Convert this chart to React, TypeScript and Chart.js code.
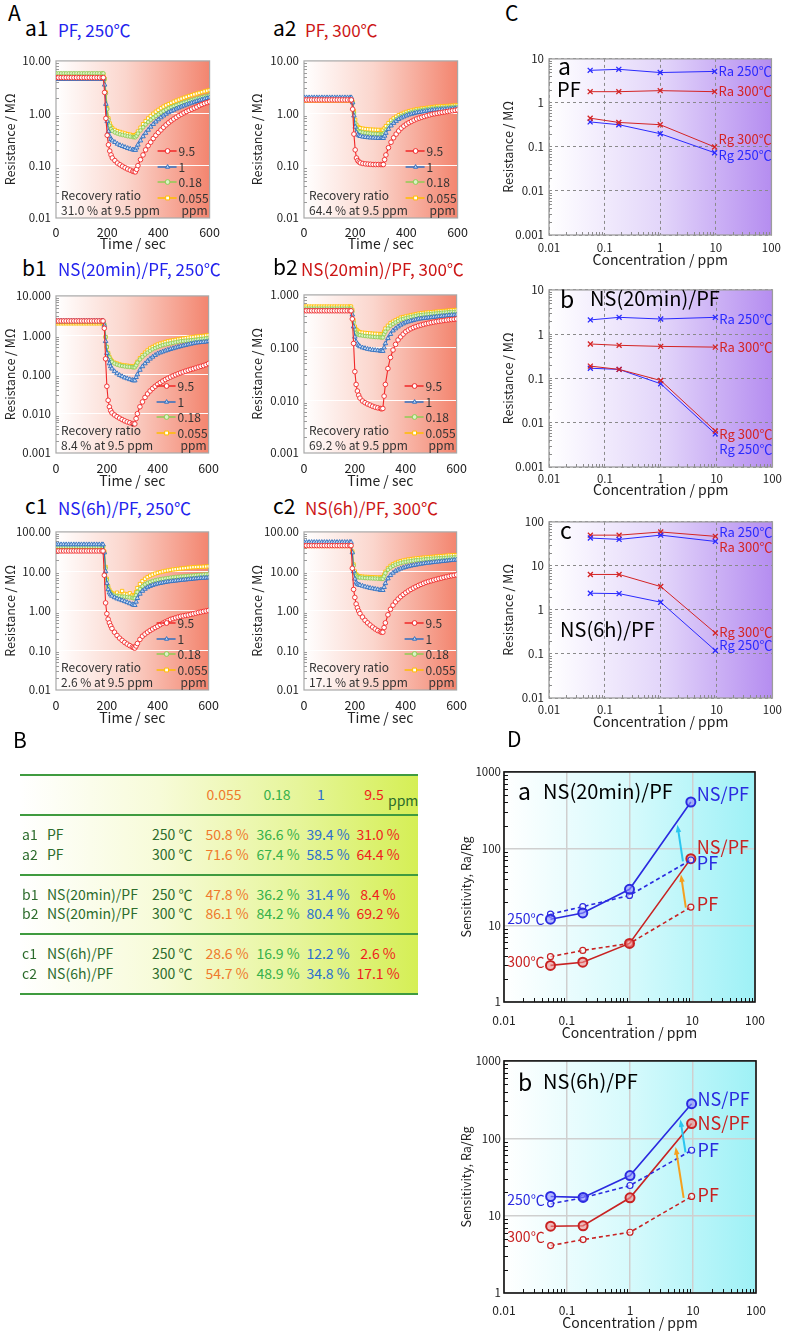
import React, { useEffect, useRef } from 'react';
import { Chart, registerables } from 'chart.js';

Chart.register(...registerables);

const FONT = '"Noto Sans CJK JP", "Noto Sans", "DejaVu Sans", sans-serif';

// ---------------- Panel A: time responses ----------------
const TIME = [0, 10, 20, 30, 40, 50, 60, 70, 80, 90, 100, 110, 120, 130, 140, 150, 160, 170, 180, 185,
  190, 195, 200, 205, 210, 215, 220, 230, 240, 250, 260, 270, 280, 290, 300, 305, 310, 315, 320,
  330, 340, 350, 360, 370, 380, 390, 400, 410, 420, 430, 440, 450, 460, 470, 480, 490, 500, 510, 520, 530, 540, 550, 560, 570, 580, 590, 600];
const TIME_TICKS = [0, 200, 400, 600];
const LEGEND_LABELS = ['9.5', '1', '0.18', '0.055'];
const LEGEND_UNIT = 'ppm';

// a1 PF 250
const A1_R = [4.8, 4.8, 4.8, 4.8, 4.8, 4.8, 4.8, 4.8, 4.8, 4.8, 4.8, 4.8, 4.8, 4.8, 4.8, 4.8, 4.8, 4.8, 4.8, 4.8,
  2.5, 0.8, 0.38, 0.25, 0.19, 0.16, 0.14, 0.125, 0.112, 0.104, 0.097, 0.091, 0.086, 0.082, 0.078, 0.077, 0.076, 0.085, 0.1,
  0.13, 0.16, 0.2, 0.24, 0.28, 0.33, 0.38, 0.43, 0.48, 0.54, 0.6, 0.66, 0.72, 0.78, 0.84, 0.9, 0.96, 1.02, 1.08, 1.14, 1.2, 1.26, 1.32, 1.4, 1.47, 1.54, 1.6, 1.66];
const A1_B = [4.5, 4.5, 4.5, 4.5, 4.5, 4.5, 4.5, 4.5, 4.5, 4.5, 4.5, 4.5, 4.5, 4.5, 4.5, 4.5, 4.5, 4.5, 4.5, 4.5,
  3.5, 1.5, 0.7, 0.45, 0.36, 0.32, 0.3, 0.28, 0.26, 0.245, 0.235, 0.225, 0.215, 0.208, 0.202, 0.2, 0.198, 0.22, 0.25,
  0.3, 0.36, 0.42, 0.48, 0.55, 0.62, 0.69, 0.76, 0.83, 0.9, 0.97, 1.04, 1.1, 1.16, 1.22, 1.28, 1.34, 1.4, 1.46, 1.52, 1.58, 1.64, 1.7, 1.76, 1.82, 1.88, 1.94, 2.0];
const A1_G = [5.8, 5.8, 5.8, 5.8, 5.8, 5.8, 5.8, 5.8, 5.8, 5.8, 5.8, 5.8, 5.8, 5.8, 5.8, 5.8, 5.8, 5.8, 5.8, 5.8,
  4.6, 2.4, 1.2, 0.75, 0.58, 0.5, 0.46, 0.43, 0.41, 0.395, 0.385, 0.375, 0.365, 0.358, 0.352, 0.35, 0.348, 0.37, 0.41,
  0.47, 0.54, 0.61, 0.68, 0.75, 0.82, 0.89, 0.96, 1.03, 1.1, 1.17, 1.24, 1.3, 1.36, 1.42, 1.48, 1.54, 1.6, 1.66, 1.72, 1.78, 1.84, 1.9, 1.96, 2.02, 2.08, 2.14, 2.2];
const A1_Y = [5.5, 5.5, 5.5, 5.5, 5.5, 5.5, 5.5, 5.5, 5.5, 5.5, 5.5, 5.5, 5.5, 5.5, 5.5, 5.5, 5.5, 5.5, 5.5, 5.5,
  4.5, 2.5, 1.25, 0.8, 0.64, 0.56, 0.52, 0.48, 0.455, 0.44, 0.425, 0.412, 0.4, 0.39, 0.382, 0.378, 0.375, 0.4, 0.45,
  0.53, 0.62, 0.71, 0.8, 0.89, 0.98, 1.07, 1.16, 1.25, 1.34, 1.42, 1.5, 1.58, 1.66, 1.74, 1.82, 1.9, 1.98, 2.06, 2.14, 2.22, 2.3, 2.38, 2.46, 2.54, 2.62, 2.7, 2.78];

// a2 PF 300
const A2_R = [1.8, 1.8, 1.8, 1.8, 1.8, 1.8, 1.8, 1.8, 1.8, 1.8, 1.8, 1.8, 1.8, 1.8, 1.8, 1.8, 1.8, 1.8, 1.8, 1.8,
  1.2, 0.4, 0.2, 0.14, 0.125, 0.118, 0.113, 0.11, 0.108, 0.107, 0.106, 0.105, 0.105, 0.105, 0.105, 0.105, 0.105, 0.13, 0.16,
  0.22, 0.28, 0.34, 0.4, 0.46, 0.52, 0.57, 0.62, 0.66, 0.7, 0.74, 0.78, 0.81, 0.84, 0.87, 0.9, 0.93, 0.96, 0.98, 1.0, 1.02, 1.04, 1.06, 1.08, 1.1, 1.12, 1.14, 1.16];
const A2_B = [2.0, 2.0, 2.0, 2.0, 2.0, 2.0, 2.0, 2.0, 2.0, 2.0, 2.0, 2.0, 2.0, 2.0, 2.0, 2.0, 2.0, 2.0, 2.0, 2.0,
  1.6, 0.9, 0.55, 0.43, 0.39, 0.375, 0.365, 0.355, 0.35, 0.345, 0.342, 0.34, 0.338, 0.336, 0.335, 0.335, 0.335, 0.37, 0.42,
  0.5, 0.58, 0.65, 0.71, 0.77, 0.82, 0.86, 0.9, 0.94, 0.97, 1.0, 1.03, 1.05, 1.07, 1.09, 1.11, 1.13, 1.15, 1.16, 1.17, 1.18, 1.19, 1.2, 1.21, 1.22, 1.23, 1.24, 1.25];
const A2_G = [1.85, 1.85, 1.85, 1.85, 1.85, 1.85, 1.85, 1.85, 1.85, 1.85, 1.85, 1.85, 1.85, 1.85, 1.85, 1.85, 1.85, 1.85, 1.85, 1.85,
  1.6, 1.0, 0.65, 0.52, 0.47, 0.45, 0.44, 0.43, 0.42, 0.415, 0.41, 0.405, 0.402, 0.4, 0.398, 0.397, 0.396, 0.43, 0.48,
  0.56, 0.64, 0.71, 0.77, 0.83, 0.88, 0.93, 0.97, 1.01, 1.05, 1.08, 1.11, 1.13, 1.15, 1.17, 1.19, 1.21, 1.23, 1.24, 1.25, 1.26, 1.27, 1.28, 1.29, 1.3, 1.31, 1.32, 1.33];
const A2_Y = [1.75, 1.75, 1.75, 1.75, 1.75, 1.75, 1.75, 1.75, 1.75, 1.75, 1.75, 1.75, 1.75, 1.75, 1.75, 1.75, 1.75, 1.75, 1.75, 1.75,
  1.65, 1.1, 0.75, 0.6, 0.55, 0.53, 0.52, 0.51, 0.5, 0.495, 0.49, 0.487, 0.484, 0.482, 0.48, 0.48, 0.48, 0.52, 0.57,
  0.65, 0.73, 0.8, 0.86, 0.92, 0.97, 1.02, 1.06, 1.1, 1.13, 1.16, 1.19, 1.21, 1.23, 1.25, 1.27, 1.29, 1.31, 1.33, 1.34, 1.35, 1.36, 1.37, 1.38, 1.39, 1.4, 1.41, 1.42];

// b1 NS(20min)/PF 250
const B1_R = [2.3, 2.3, 2.3, 2.3, 2.3, 2.3, 2.3, 2.3, 2.3, 2.3, 2.3, 2.3, 2.3, 2.3, 2.3, 2.3, 2.3, 2.3, 2.3, 2.3,
  1.5, 0.25, 0.05, 0.022, 0.015, 0.012, 0.0105, 0.0093, 0.0084, 0.0077, 0.0071, 0.0066, 0.0062, 0.0059, 0.0056, 0.0055, 0.0055, 0.0075, 0.01,
  0.015, 0.02, 0.026, 0.032, 0.038, 0.044, 0.05, 0.056, 0.062, 0.068, 0.074, 0.08, 0.086, 0.092, 0.098, 0.104, 0.11, 0.116, 0.122, 0.128, 0.134, 0.14, 0.147, 0.154, 0.161, 0.168, 0.178, 0.19];
const B1_B = [2.3, 2.3, 2.3, 2.3, 2.3, 2.3, 2.3, 2.3, 2.3, 2.3, 2.3, 2.3, 2.3, 2.3, 2.3, 2.3, 2.3, 2.3, 2.3, 2.3,
  1.8, 0.7, 0.35, 0.24, 0.19, 0.16, 0.14, 0.12, 0.106, 0.096, 0.089, 0.083, 0.079, 0.075, 0.072, 0.07, 0.07, 0.085, 0.1,
  0.13, 0.16, 0.19, 0.22, 0.25, 0.28, 0.31, 0.34, 0.36, 0.38, 0.4, 0.42, 0.44, 0.46, 0.48, 0.5, 0.52, 0.54, 0.56, 0.58, 0.6, 0.62, 0.64, 0.65, 0.66, 0.67, 0.68, 0.7];
const B1_G = [2.2, 2.2, 2.2, 2.2, 2.2, 2.2, 2.2, 2.2, 2.2, 2.2, 2.2, 2.2, 2.2, 2.2, 2.2, 2.2, 2.2, 2.2, 2.2, 2.2,
  1.9, 0.9, 0.5, 0.34, 0.27, 0.23, 0.21, 0.19, 0.178, 0.17, 0.164, 0.16, 0.157, 0.155, 0.153, 0.152, 0.152, 0.17, 0.2,
  0.24, 0.28, 0.32, 0.36, 0.4, 0.44, 0.47, 0.5, 0.53, 0.56, 0.58, 0.6, 0.62, 0.64, 0.66, 0.68, 0.7, 0.71, 0.72, 0.73, 0.74, 0.75, 0.76, 0.78, 0.8, 0.81, 0.83, 0.85];
const B1_Y = [2.0, 2.0, 2.0, 2.0, 2.0, 2.0, 2.0, 2.0, 2.0, 2.0, 2.0, 2.0, 2.0, 2.0, 2.0, 2.0, 2.0, 2.0, 2.0, 2.0,
  1.8, 0.9, 0.5, 0.35, 0.28, 0.24, 0.22, 0.2, 0.19, 0.18, 0.174, 0.17, 0.167, 0.164, 0.162, 0.16, 0.16, 0.18, 0.21,
  0.26, 0.31, 0.36, 0.41, 0.46, 0.5, 0.54, 0.58, 0.61, 0.64, 0.67, 0.7, 0.72, 0.74, 0.76, 0.78, 0.8, 0.82, 0.84, 0.86, 0.88, 0.9, 0.92, 0.93, 0.95, 0.96, 0.98, 1.0];

// b2 NS(20min)/PF 300
const B2_R = [0.5, 0.5, 0.5, 0.5, 0.5, 0.5, 0.5, 0.5, 0.5, 0.5, 0.5, 0.5, 0.5, 0.5, 0.5, 0.5, 0.5, 0.5, 0.5, 0.5,
  0.35, 0.12, 0.035, 0.02, 0.015, 0.0125, 0.011, 0.0097, 0.009, 0.0085, 0.0081, 0.0077, 0.0074, 0.0072, 0.007, 0.0069, 0.007, 0.012, 0.02,
  0.04, 0.065, 0.09, 0.115, 0.14, 0.16, 0.18, 0.2, 0.215, 0.228, 0.24, 0.25, 0.26, 0.268, 0.276, 0.284, 0.291, 0.298, 0.305, 0.311, 0.317, 0.322, 0.327, 0.332, 0.337, 0.341, 0.345, 0.35];
const B2_B = [0.5, 0.5, 0.5, 0.5, 0.5, 0.5, 0.5, 0.5, 0.5, 0.5, 0.5, 0.5, 0.5, 0.5, 0.5, 0.5, 0.5, 0.5, 0.5, 0.5,
  0.42, 0.25, 0.16, 0.13, 0.118, 0.11, 0.105, 0.1, 0.097, 0.094, 0.092, 0.09, 0.089, 0.088, 0.087, 0.086, 0.086, 0.1, 0.12,
  0.15, 0.18, 0.21, 0.23, 0.25, 0.27, 0.285, 0.3, 0.31, 0.32, 0.33, 0.34, 0.35, 0.355, 0.36, 0.365, 0.37, 0.375, 0.38, 0.385, 0.39, 0.395, 0.4, 0.405, 0.41, 0.413, 0.416, 0.42];
const B2_G = [0.55, 0.55, 0.55, 0.55, 0.55, 0.55, 0.55, 0.55, 0.55, 0.55, 0.55, 0.55, 0.55, 0.55, 0.55, 0.55, 0.55, 0.55, 0.55, 0.55,
  0.48, 0.3, 0.22, 0.19, 0.18, 0.175, 0.172, 0.169, 0.166, 0.164, 0.162, 0.16, 0.159, 0.158, 0.157, 0.156, 0.156, 0.18, 0.2,
  0.23, 0.26, 0.28, 0.3, 0.32, 0.34, 0.35, 0.36, 0.37, 0.38, 0.39, 0.4, 0.41, 0.415, 0.42, 0.425, 0.43, 0.435, 0.44, 0.445, 0.45, 0.455, 0.46, 0.465, 0.47, 0.473, 0.476, 0.48];
const B2_Y = [0.6, 0.6, 0.6, 0.6, 0.6, 0.6, 0.6, 0.6, 0.6, 0.6, 0.6, 0.6, 0.6, 0.6, 0.6, 0.6, 0.6, 0.6, 0.6, 0.6,
  0.52, 0.33, 0.25, 0.22, 0.21, 0.2, 0.195, 0.192, 0.19, 0.188, 0.186, 0.184, 0.183, 0.182, 0.181, 0.18, 0.18, 0.2, 0.23,
  0.26, 0.29, 0.31, 0.33, 0.35, 0.37, 0.38, 0.39, 0.4, 0.41, 0.42, 0.43, 0.44, 0.45, 0.455, 0.46, 0.465, 0.47, 0.475, 0.48, 0.485, 0.49, 0.495, 0.5, 0.505, 0.51, 0.515, 0.52];

// c1 NS(6h)/PF 250
const C1_R = [33, 33, 33, 33, 33, 33, 33, 33, 33, 33, 33, 33, 33, 33, 33, 33, 33, 33, 33, 33,
  8, 1.6, 0.85, 0.62, 0.5, 0.42, 0.36, 0.29, 0.24, 0.205, 0.18, 0.16, 0.145, 0.133, 0.123, 0.118, 0.115, 0.13, 0.15,
  0.19, 0.23, 0.26, 0.29, 0.32, 0.35, 0.38, 0.41, 0.45, 0.49, 0.53, 0.57, 0.61, 0.64, 0.67, 0.7, 0.73, 0.75, 0.77, 0.79, 0.82, 0.85, 0.88, 0.91, 0.94, 0.97, 1.0, 1.03];
const C1_B = [48, 48, 48, 48, 48, 48, 48, 48, 48, 48, 48, 48, 48, 48, 48, 48, 48, 48, 48, 48,
  30, 10, 5, 3.5, 2.9, 2.6, 2.4, 2.2, 2.05, 1.95, 1.85, 1.75, 1.65, 1.55, 1.47, 1.42, 1.4, 1.7, 2.1,
  2.7, 3.2, 3.6, 3.95, 4.25, 4.5, 4.7, 4.9, 5.05, 5.2, 5.35, 5.5, 5.6, 5.7, 5.8, 5.9, 6.0, 6.1, 6.2, 6.3, 6.4, 6.5, 6.6, 6.7, 6.8, 6.85, 6.9, 7.0];
const C1_G = [42, 42, 42, 42, 42, 42, 42, 42, 42, 42, 42, 42, 42, 42, 42, 42, 42, 42, 42, 42,
  30, 12, 6, 4, 3.2, 2.8, 2.6, 2.45, 2.4, 2.35, 2.3, 2.3, 2.25, 2.2, 2.15, 2.1, 2.1, 2.5, 3.0,
  3.6, 4.2, 4.7, 5.1, 5.4, 5.7, 5.95, 6.15, 6.35, 6.5, 6.65, 6.8, 6.95, 7.1, 7.2, 7.3, 7.4, 7.5, 7.6, 7.7, 7.8, 7.9, 8.0, 8.1, 8.2, 8.3, 8.4, 8.5];
const C1_Y = [42, 42, 42, 42, 42, 42, 42, 42, 42, 42, 42, 42, 42, 42, 42, 42, 42, 42, 42, 42,
  32, 13, 6.5, 4.2, 3.4, 3.0, 2.8, 2.7, 2.9, 2.6, 3.2, 2.7, 2.6, 2.8, 2.5, 2.4, 2.4, 3.0, 3.8,
  4.8, 5.7, 6.5, 7.2, 7.8, 8.3, 8.8, 9.2, 9.6, 10.0, 10.3, 10.6, 10.9, 11.2, 11.4, 11.6, 11.8, 12.0, 12.2, 12.4, 12.6, 12.8, 12.9, 13.0, 13.1, 13.2, 13.3, 13.5];

// c2 NS(6h)/PF 300
const C2_R = [45, 45, 45, 45, 45, 45, 45, 45, 45, 45, 45, 45, 45, 45, 45, 45, 45, 45, 45, 45,
  12, 3.5, 2.2, 1.5, 1.2, 1.0, 0.86, 0.7, 0.58, 0.5, 0.44, 0.39, 0.35, 0.32, 0.3, 0.29, 0.29, 0.38, 0.5,
  0.8, 1.1, 1.4, 1.7, 2.0, 2.3, 2.6, 2.9, 3.2, 3.5, 3.8, 4.1, 4.4, 4.7, 5.0, 5.3, 5.55, 5.8, 6.05, 6.3, 6.55, 6.8, 7.05, 7.3, 7.55, 7.8, 8.0, 8.2];
const C2_B = [55, 55, 55, 55, 55, 55, 55, 55, 55, 55, 55, 55, 55, 55, 55, 55, 55, 55, 55, 55,
  30, 10, 6.5, 5.2, 4.8, 4.6, 4.5, 4.3, 4.1, 3.95, 3.8, 3.7, 3.6, 3.5, 3.4, 3.35, 3.35, 4.0, 5.0,
  6.6, 8.0, 9.2, 10.2, 11.0, 11.7, 12.3, 12.9, 13.4, 13.9, 14.3, 14.7, 15.1, 15.5, 15.9, 16.2, 16.5, 16.8, 17.1, 17.4, 17.7, 18.0, 18.3, 18.6, 18.9, 19.2, 19.5, 19.8];
const C2_G = [46, 46, 46, 46, 46, 46, 46, 46, 46, 46, 46, 46, 46, 46, 46, 46, 46, 46, 46, 46,
  30, 14, 9, 7.8, 7.3, 7.1, 7.0, 6.9, 6.8, 6.75, 6.7, 6.65, 6.6, 6.55, 6.5, 6.5, 6.5, 7.5, 9.0,
  11.0, 12.5, 13.8, 14.8, 15.6, 16.3, 16.9, 17.4, 17.9, 18.3, 18.7, 19.1, 19.4, 19.7, 20.0, 20.3, 20.6, 20.9, 21.1, 21.3, 21.5, 21.7, 21.9, 22.1, 22.3, 22.5, 22.7, 23.0];
const C2_Y = [44, 44, 44, 44, 44, 44, 44, 44, 44, 44, 44, 44, 44, 44, 44, 44, 44, 44, 44, 44,
  32, 15, 10, 8.5, 7.9, 7.6, 7.5, 7.4, 7.3, 7.25, 7.2, 7.15, 7.1, 7.05, 7.0, 7.0, 7.0, 8.2, 9.8,
  12.0, 13.8, 15.2, 16.4, 17.4, 18.2, 18.9, 19.5, 20.0, 20.5, 20.9, 21.3, 21.7, 22.0, 22.3, 22.6, 22.9, 23.2, 23.5, 23.8, 24.1, 24.4, 24.7, 25.0, 25.3, 25.6, 25.8, 26.0];

const Y_TICKS_A = [0.01, 0.1, 1, 10];
const Y_LABELS_A = ['0.01', '0.10', '1.00', '10.00'];
const Y_TICKS_B1 = [0.001, 0.01, 0.1, 1, 10];
const Y_LABELS_B1 = ['0.001', '0.010', '0.100', '1.000', '10.000'];
const Y_TICKS_B2 = [0.001, 0.01, 0.1, 1];
const Y_LABELS_B2 = ['0.001', '0.010', '0.100', '1.000'];
const Y_TICKS_C = [0.01, 0.1, 1, 10, 100];
const Y_LABELS_C = ['0.01', '0.10', '1.00', '10.00', '100.00'];
const RECOVERY = ['31.0 % at 9.5 ppm', '64.4 % at 9.5 ppm', '8.4 % at 9.5 ppm', '69.2 % at 9.5 ppm', '2.6 % at 9.5 ppm', '17.1 % at 9.5 ppm'];

// ---------------- Panel C: Ra / Rg vs concentration ----------------
const CONC = [0.055, 0.18, 1, 9.5];
const C_NAMES = ['Ra 250℃', 'Ra 300℃', 'Rg 300℃', 'Rg 250℃'];
const CA_RA250 = [5.5, 5.8, 4.9, 5.2];
const CA_RA300 = [1.8, 1.8, 1.9, 1.8];
const CA_RG300 = [0.45, 0.36, 0.32, 0.1];
const CA_RG250 = [0.37, 0.32, 0.2, 0.074];
const CA_LABEL_Y = [5.4, 1.85, 0.15, 0.066];
const CB_RA250 = [2.1, 2.4, 2.2, 2.4];
const CB_RA300 = [0.6, 0.56, 0.53, 0.51];
const CB_RG300 = [0.19, 0.16, 0.09, 0.0065];
const CB_RG250 = [0.17, 0.16, 0.076, 0.0056];
const CB_LABEL_Y = [2.2, 0.5, 0.0056, 0.0025];
const CC_RA250 = [43, 40, 50, 36];
const CC_RA300 = [50, 50, 59, 47];
const CC_RG300 = [6.4, 6.4, 3.4, 0.3];
const CC_RG250 = [2.4, 2.35, 1.5, 0.12];
const CC_LABEL_Y = [60, 26.5, 0.32, 0.16];
const CONC_TICKS = [0.01, 0.1, 1, 10, 100];
const CONC_LABELS = ['0.01', '0.1', '1', '10', '100'];
const C_TICKS_1 = [0.001, 0.01, 0.1, 1, 10];
const C_LABELS_1 = ['0.001', '0.01', '0.1', '1', '10'];
const C_TICKS_2 = [0.01, 0.1, 1, 10, 100];
const C_LABELS_2 = ['0.01', '0.1', '1', '10', '100'];

// ---------------- Panel D: sensitivity ----------------
const DA_NS250 = [12, 14.5, 29.5, 405];
const DA_PF250 = [14, 17.5, 24.5, 71];
const DA_NS300 = [3.0, 3.3, 5.8, 74];
const DA_PF300 = [3.9, 4.7, 5.8, 17.3];
const DB_NS250 = [17.7, 17.2, 33, 280];
const DB_PF250 = [14.2, 17, 24.5, 70];
const DB_NS300 = [7.3, 7.4, 17, 155];
const DB_PF300 = [4.1, 4.9, 6.1, 17.7];
const D_TICKS = [1, 10, 100, 1000];
const D_LABELS = ['1', '10', '100', '1000'];
const D_TEXTS = ['NS/PF', 'NS/PF', 'PF', 'PF', '250℃', '300℃'];
const DA_LABEL_Y = [518, 106, 64, 18.8, 12.3, 3.4];
const DB_LABEL_Y = [316, 155, 70, 18.6, 16, 5.4];
const DA_ARROWS = [[7.1, 68, 5.8, 205], [7.9, 17, 6.6, 46]];
const DB_ARROWS = [[7.6, 66, 6.3, 175], [7.1, 17, 5.3, 77]];

// ---------------- Panel B: table ----------------
const B_CONC = ['0.055', '0.18', '1', '9.5'];
const B_IDS = ['a1', 'a2', 'b1', 'b2', 'c1', 'c2'];
const B_NAMES = ['PF', 'PF', 'NS(20min)/PF', 'NS(20min)/PF', 'NS(6h)/PF', 'NS(6h)/PF'];
const B_TEMPS = ['250 ℃', '300 ℃', '250 ℃', '300 ℃', '250 ℃', '300 ℃'];
const B_R0055 = ['50.8 %', '71.6 %', '47.8 %', '86.1 %', '28.6 %', '54.7 %'];
const B_R018 = ['36.6 %', '67.4 %', '36.2 %', '84.2 %', '16.9 %', '48.9 %'];
const B_R1 = ['39.4 %', '58.5 %', '31.4 %', '80.4 %', '12.2 %', '34.8 %'];
const B_R95 = ['31.0 %', '64.4 %', '8.4 %', '69.2 %', '2.6 %', '17.1 %'];

// ---------------- styles ----------------
const A_STYLES = [
  { color: '#f02828', point: 'circle', r: 2.3, fill: '#ffffff' },
  { color: '#2f6fc0', point: 'triangle', r: 2.6, fill: '#c5d8f2' },
  { color: '#8fcc55', point: 'circle', r: 1.8, fill: '#dcf2c6' },
  { color: '#ffbe00', point: 'rect', r: 2.3, fill: '#ffffff' },
];
const C_BLUE = '#2a2aff';
const C_RED = '#d42424';
const D_BLUE = '#2a2ae0';
const D_RED = '#c82222';

function drawMarker(ctx: any, style: string, x: number, y: number, r: number, fill: string, stroke: string) {
  ctx.save();
  ctx.fillStyle = fill;
  ctx.strokeStyle = stroke;
  ctx.lineWidth = 1;
  ctx.beginPath();
  if (style === 'triangle') {
    ctx.moveTo(x, y - r);
    ctx.lineTo(x + r * 0.87, y + r * 0.5);
    ctx.lineTo(x - r * 0.87, y + r * 0.5);
    ctx.closePath();
  } else if (style === 'rect') {
    ctx.rect(x - r * 0.8, y - r * 0.8, r * 1.6, r * 1.6);
  } else {
    ctx.arc(x, y, r, 0, Math.PI * 2);
  }
  ctx.fill();
  ctx.stroke();
  ctx.restore();
}

function gradientBg(stops: [number, string][]) {
  return {
    id: 'gradientBg',
    beforeDraw(chart: any) {
      const { ctx, chartArea: a } = chart;
      if (!a) return;
      const g = ctx.createLinearGradient(a.left, 0, a.right, 0);
      stops.forEach(([o, c]) => g.addColorStop(o, c));
      ctx.save();
      ctx.fillStyle = g;
      ctx.fillRect(a.left, a.top, a.right - a.left, a.bottom - a.top);
      ctx.restore();
    },
  };
}

function frame(color: string, width: number) {
  return {
    id: 'frame',
    beforeDatasetsDraw(chart: any) {
      const { ctx, chartArea: a } = chart;
      ctx.save();
      ctx.strokeStyle = color;
      ctx.lineWidth = width;
      ctx.strokeRect(a.left, a.top, a.right - a.left, a.bottom - a.top);
      ctx.restore();
    },
  };
}

function minorTicks(axes: string[], color: string, len: number) {
  return {
    id: 'minorTicks',
    beforeDatasetsDraw(chart: any) {
      const { ctx, chartArea: a } = chart;
      ctx.save();
      ctx.strokeStyle = color;
      ctx.lineWidth = 1;
      axes.forEach((id) => {
        const s = chart.scales[id];
        const lo = Math.floor(Math.log10(s.min) + 1e-9);
        const hi = Math.ceil(Math.log10(s.max) - 1e-9);
        for (let d = lo; d < hi; d++) {
          for (let m = 2; m <= 9; m++) {
            const v = m * Math.pow(10, d);
            if (v <= s.min || v >= s.max) continue;
            const p = Math.round(s.getPixelForValue(v)) + 0.5;
            ctx.beginPath();
            if (s.isHorizontal()) {
              ctx.moveTo(p, a.bottom);
              ctx.lineTo(p, a.bottom - len);
            } else {
              ctx.moveTo(a.left, p);
              ctx.lineTo(a.left + len, p);
            }
            ctx.stroke();
          }
        }
      });
      ctx.restore();
    },
  };
}

function aLegend(recovery: string) {
  return {
    id: 'aLegend',
    afterDatasetsDraw(chart: any) {
      const { ctx, chartArea: a } = chart;
      const rows = [-67, -51, -36, -20];
      ctx.save();
      ctx.font = `12px ${FONT}`;
      ctx.textBaseline = 'middle';
      ctx.textAlign = 'left';
      LEGEND_LABELS.forEach((lab, k) => {
        const st = A_STYLES[k];
        const y = a.bottom + rows[k];
        ctx.strokeStyle = st.color;
        ctx.lineWidth = 1.5;
        ctx.beginPath();
        ctx.moveTo(a.right - 52, y);
        ctx.lineTo(a.right - 33, y);
        ctx.stroke();
        drawMarker(ctx, st.point, a.right - 42, y, 2.4, st.fill, st.color);
        ctx.fillStyle = '#333';
        ctx.fillText(lab, a.right - 31, y);
      });
      ctx.fillStyle = '#333';
      ctx.fillText(LEGEND_UNIT, a.right - 28, a.bottom - 8);
      ctx.fillText('Recovery ratio', a.left + 5, a.bottom - 23);
      ctx.fillText(recovery, a.left + 5, a.bottom - 8);
      ctx.restore();
    },
  };
}

function textPlugin(items: any[]) {
  return {
    id: 'texts',
    afterDatasetsDraw(chart: any) {
      const { ctx } = chart;
      const xs = chart.scales.x;
      const ys = chart.scales.y;
      ctx.save();
      ctx.textBaseline = 'middle';
      items.forEach((it) => {
        ctx.font = `${it.size}px ${FONT}`;
        ctx.fillStyle = it.color;
        ctx.textAlign = it.align || 'left';
        ctx.fillText(it.text, xs.getPixelForValue(it.x) + (it.dx || 0), ys.getPixelForValue(it.y));
      });
      ctx.restore();
    },
  };
}

function arrowPlugin(arrows: number[][], colors: string[]) {
  return {
    id: 'arrows',
    afterDatasetsDraw(chart: any) {
      const { ctx } = chart;
      const xs = chart.scales.x;
      const ys = chart.scales.y;
      ctx.save();
      arrows.forEach((ar, k) => {
        const x1 = xs.getPixelForValue(ar[0]);
        const y1 = ys.getPixelForValue(ar[1]);
        const x2 = xs.getPixelForValue(ar[2]);
        const y2 = ys.getPixelForValue(ar[3]);
        const ang = Math.atan2(y2 - y1, x2 - x1);
        const h = 8;
        ctx.strokeStyle = colors[k];
        ctx.fillStyle = colors[k];
        ctx.lineWidth = 2;
        ctx.beginPath();
        ctx.moveTo(x1, y1);
        ctx.lineTo(x2 - Math.cos(ang) * h * 0.8, y2 - Math.sin(ang) * h * 0.8);
        ctx.stroke();
        ctx.beginPath();
        ctx.moveTo(x2, y2);
        ctx.lineTo(x2 - h * Math.cos(ang - 0.35), y2 - h * Math.sin(ang - 0.35));
        ctx.lineTo(x2 - h * Math.cos(ang + 0.35), y2 - h * Math.sin(ang + 0.35));
        ctx.closePath();
        ctx.fill();
      });
      ctx.restore();
    },
  };
}

function logAxis(ticks: number[], labels: string[], o: any) {
  return {
    type: 'logarithmic',
    min: ticks[0],
    max: ticks[ticks.length - 1],
    afterBuildTicks: (s: any) => {
      s.ticks = ticks.map((v) => ({ value: v }));
    },
    afterFit: o.fit,
    grid: o.grid,
    border: o.border,
    ticks: {
      autoSkip: false,
      maxRotation: 0,
      padding: o.pad,
      color: '#222',
      font: { family: FONT, size: o.tickSize },
      callback: (_v: any, i: number) => labels[i],
    },
    title: { display: true, text: o.title, color: '#222', font: { family: FONT, size: o.titleSize }, padding: 0 },
  };
}

const PAD_T = 8;
const PAD_R = 14;

function baseOptions(scales: any) {
  return {
    animation: false,
    responsive: false,
    events: [],
    layout: { padding: { left: 0, top: PAD_T, right: PAD_R, bottom: 0 }, autoPadding: false },
    plugins: { legend: { display: false }, tooltip: { enabled: false }, title: { display: false } },
    scales,
  };
}

function timeConfig(p: any) {
  return {
    type: 'line',
    data: {
      datasets: p.series.map((arr: number[], k: number) => ({
        label: LEGEND_LABELS[k],
        data: TIME.map((t, i) => ({ x: t, y: arr[i] })),
        borderColor: A_STYLES[k].color,
        borderWidth: 1.1,
        pointStyle: A_STYLES[k].point,
        pointRadius: A_STYLES[k].r,
        pointBackgroundColor: A_STYLES[k].fill,
        pointBorderColor: A_STYLES[k].color,
        pointBorderWidth: 0.9,
        tension: 0,
        fill: false,
      })),
    },
    options: baseOptions({
      x: {
        type: 'linear',
        min: 0,
        max: 600,
        afterBuildTicks: (s: any) => {
          s.ticks = TIME_TICKS.map((v) => ({ value: v }));
        },
        afterFit: (s: any) => {
          s.height = p.xH;
        },
        grid: { display: false, drawTicks: false },
        border: { display: false },
        ticks: { autoSkip: false, maxRotation: 0, padding: p.xPad, color: '#222', font: { family: FONT, size: 12.5 } },
        title: { display: true, text: 'Time / sec', color: '#222', font: { family: FONT, size: 14 }, padding: 0 },
      },
      y: logAxis(p.ticks, p.labels, {
        fit: (s: any) => {
          s.width = p.yW;
        },
        grid: { color: 'rgba(255,255,255,0.95)', lineWidth: 1, drawTicks: false },
        border: { display: false },
        pad: 5,
        tickSize: 11.5,
        title: 'Resistance / MΩ',
        titleSize: 12.5,
      }),
    }),
    plugins: [
      gradientBg([[0, '#ffffff'], [0.45, '#fbd6cd'], [1, '#f3856f']]),
      frame('#a8a8a8', 1.2),
      minorTicks(['y'], '#9a9a9a', 3),
      aLegend(p.rec),
    ],
  };
}

function concConfig(p: any) {
  const colors = [C_BLUE, C_RED, C_RED, C_BLUE];
  return {
    type: 'line',
    data: {
      datasets: p.series.map((arr: number[], k: number) => ({
        label: C_NAMES[k],
        data: CONC.map((c, i) => ({ x: c, y: arr[i] })),
        borderColor: colors[k],
        borderWidth: 1,
        pointStyle: 'crossRot',
        pointRadius: 3.5,
        pointBorderColor: colors[k],
        pointBorderWidth: 1.3,
        tension: 0,
        fill: false,
      })),
    },
    options: baseOptions({
      x: logAxis(CONC_TICKS, CONC_LABELS, {
        fit: (s: any) => {
          s.height = p.xH;
        },
        grid: { color: '#8a8a8a', lineWidth: 1, drawTicks: false },
        border: { display: false, dash: [3, 3] },
        pad: p.xPad,
        tickSize: 11.5,
        title: 'Concentration / ppm',
        titleSize: 14,
      }),
      y: logAxis(p.ticks, p.labels, {
        fit: (s: any) => {
          s.width = p.yW;
        },
        grid: { color: '#8a8a8a', lineWidth: 1, drawTicks: false },
        border: { display: false, dash: [3, 3] },
        pad: 5,
        tickSize: 11.5,
        title: 'Resistance / MΩ',
        titleSize: 12.5,
      }),
    }),
    plugins: [
      gradientBg([[0, '#ffffff'], [0.5, '#e3d6fa'], [1, '#b58df0']]),
      frame('#9c9c9c', 1.3),
      minorTicks(['x', 'y'], '#8c8c8c', 3),
      textPlugin(C_NAMES.map((n, k) => ({ x: CONC[3], y: p.labelY[k], text: n, color: colors[k], size: 13, dx: 4 }))),
    ],
  };
}

function sensConfig(p: any) {
  const mk = (arr: number[], color: string, big: boolean) => ({
    data: CONC.map((c, i) => ({ x: c, y: arr[i] })),
    borderColor: color,
    borderWidth: 1.6,
    borderDash: big ? [] : [4, 3],
    pointStyle: 'circle',
    pointRadius: big ? 4.5 : 3,
    pointBorderWidth: big ? 2 : 1.2,
    pointBorderColor: color,
    pointBackgroundColor: big ? (color === D_BLUE ? 'rgba(140,140,255,0.6)' : 'rgba(240,140,140,0.6)') : 'rgba(255,255,255,0.6)',
    tension: 0,
    fill: false,
  });
  const colors = [D_BLUE, D_RED, D_BLUE, D_RED, D_BLUE, D_RED];
  const items = D_TEXTS.map((t, k) => ({
    x: k < 4 ? CONC[3] : CONC[0],
    y: p.labelY[k],
    text: t,
    color: colors[k],
    size: k < 4 ? 18 : 14,
    dx: k < 4 ? 6 : -6,
    align: k < 4 ? 'left' : 'right',
  }));
  return {
    type: 'line',
    data: {
      datasets: [mk(p.ns250, D_BLUE, true), mk(p.pf250, D_BLUE, false), mk(p.ns300, D_RED, true), mk(p.pf300, D_RED, false)],
    },
    options: baseOptions({
      x: logAxis(CONC_TICKS, CONC_LABELS, {
        fit: (s: any) => {
          s.height = p.xH;
        },
        grid: { color: '#cfcfcf', lineWidth: 1.5, drawTicks: false },
        border: { display: false },
        pad: p.xPad,
        tickSize: 12,
        title: 'Concentration / ppm',
        titleSize: 14,
      }),
      y: logAxis(D_TICKS, D_LABELS, {
        fit: (s: any) => {
          s.width = p.yW;
        },
        grid: { color: '#cfcfcf', lineWidth: 1.5, drawTicks: false },
        border: { display: false },
        pad: 3,
        tickSize: 11.5,
        title: 'Sensitivity, Ra/Rg',
        titleSize: 12.5,
      }),
    }),
    plugins: [
      gradientBg([[0, '#ffffff'], [0.5, '#d6fafc'], [1, '#9ef1f6']]),
      frame('#111111', 1.6),
      minorTicks(['x', 'y'], '#111111', 4),
      arrowPlugin(p.arrows, ['#2cc6ef', '#f5a01e']),
      textPlugin(items),
    ],
  };
}

function box(area: any, yW: number, xH: number) {
  return {
    left: area.L - yW,
    top: area.T - PAD_T,
    width: yW + area.R - area.L + PAD_R,
    height: PAD_T + area.B - area.T + xH,
  };
}

function ChartBox({ b, make }: any) {
  const ref = useRef<HTMLCanvasElement>(null);
  useEffect(() => {
    const chart = new Chart(ref.current as any, make() as any);
    return () => chart.destroy();
  }, []);
  return (
    <canvas
      ref={ref}
      width={b.width}
      height={b.height}
      style={{ position: 'absolute', left: b.left, top: b.top, width: b.width, height: b.height }}
    />
  );
}

function Txt({ x, by, s, c = '#000', ax = 'left', children }: any) {
  const tx = ax === 'center' ? 'translateX(-50%)' : ax === 'right' ? 'translateX(-100%)' : undefined;
  return (
    <div
      style={{
        position: 'absolute',
        left: x,
        top: by - 0.93 * s,
        fontSize: s,
        lineHeight: 1,
        color: c,
        whiteSpace: 'nowrap',
        fontFamily: FONT,
        transform: tx,
      }}
    >
      {children}
    </div>
  );
}

const A_PANELS = [
  { area: { L: 56, T: 57, R: 213, B: 218 }, yW: 53, xH: 34, xPad: 7, series: [A1_R, A1_B, A1_G, A1_Y], ticks: Y_TICKS_A, labels: Y_LABELS_A, rec: RECOVERY[0] },
  { area: { L: 304, T: 57, R: 461, B: 218 }, yW: 54, xH: 34, xPad: 7, series: [A2_R, A2_B, A2_G, A2_Y], ticks: Y_TICKS_A, labels: Y_LABELS_A, rec: RECOVERY[1] },
  { area: { L: 56, T: 292, R: 213, B: 453 }, yW: 53, xH: 36, xPad: 8, series: [B1_R, B1_B, B1_G, B1_Y], ticks: Y_TICKS_B1, labels: Y_LABELS_B1, rec: RECOVERY[2] },
  { area: { L: 304, T: 291, R: 461, B: 453 }, yW: 54, xH: 36, xPad: 8, series: [B2_R, B2_B, B2_G, B2_Y], ticks: Y_TICKS_B2, labels: Y_LABELS_B2, rec: RECOVERY[3] },
  { area: { L: 56, T: 528, R: 213, B: 690 }, yW: 53, xH: 36, xPad: 8, series: [C1_R, C1_B, C1_G, C1_Y], ticks: Y_TICKS_C, labels: Y_LABELS_C, rec: RECOVERY[4] },
  { area: { L: 304, T: 528, R: 461, B: 690 }, yW: 54, xH: 36, xPad: 8, series: [C2_R, C2_B, C2_G, C2_Y], ticks: Y_TICKS_C, labels: Y_LABELS_C, rec: RECOVERY[5] },
];

const C_PANELS = [
  { area: { L: 549, T: 55, R: 773, B: 235 }, yW: 48, xH: 33, xPad: 6, series: [CA_RA250, CA_RA300, CA_RG300, CA_RG250], labelY: CA_LABEL_Y, ticks: C_TICKS_1, labels: C_LABELS_1 },
  { area: { L: 549, T: 286, R: 773, B: 467 }, yW: 48, xH: 31, xPad: 5, series: [CB_RA250, CB_RA300, CB_RG300, CB_RG250], labelY: CB_LABEL_Y, ticks: C_TICKS_1, labels: C_LABELS_1 },
  { area: { L: 549, T: 518, R: 773, B: 698 }, yW: 48, xH: 32, xPad: 5, series: [CC_RA250, CC_RA300, CC_RG300, CC_RG250], labelY: CC_LABEL_Y, ticks: C_TICKS_2, labels: C_LABELS_2 },
];

const D_PANELS = [
  { area: { L: 504, T: 770, R: 762, B: 1002 }, yW: 45, xH: 39, xPad: 11, ns250: DA_NS250, pf250: DA_PF250, ns300: DA_NS300, pf300: DA_PF300, labelY: DA_LABEL_Y, arrows: DA_ARROWS },
  { area: { L: 504, T: 1059, R: 762, B: 1293 }, yW: 45, xH: 38, xPad: 10, ns250: DB_NS250, pf250: DB_PF250, ns300: DB_NS300, pf300: DB_PF300, labelY: DB_LABEL_Y, arrows: DB_ARROWS },
];

function TableB() {
  const L = 20;
  const W = 398;
  const lines = [775, 815, 875, 934, 994];
  const rowsBy = [840, 860, 900, 919, 959, 979];
  const colX = [227, 278, 328, 378];
  const colC = ['#ef7a2c', '#35b04a', '#2b6fcf', '#f01c1c'];
  const hdrX = [224, 277, 321, 374];
  const dg = '#2c6c2c';
  const cols = [B_R0055, B_R018, B_R1, B_R95];
  return (
    <>
      <div
        style={{
          position: 'absolute',
          left: L,
          top: lines[0],
          width: W,
          height: lines[4] - lines[0],
          background: 'linear-gradient(to right, #ffffff 0%, #f7fbd8 35%, #e6f59a 70%, #d5ef55 100%)',
        }}
      />
      {lines.map((y, i) => (
        <div key={'l' + i} style={{ position: 'absolute', left: L, top: y - 1, width: W, height: 1.5, background: '#3f9b3f' }} />
      ))}
      {B_CONC.map((t, i) => (
        <Txt key={'h' + i} x={hdrX[i]} by={800} s={14} c={colC[i]} ax="center">
          {t}
        </Txt>
      ))}
      <Txt x={388} by={806} s={14} c={dg}>
        ppm
      </Txt>
      {B_IDS.map((id, r) => (
        <React.Fragment key={'r' + r}>
          <Txt x={22} by={rowsBy[r]} s={14} c={dg}>
            {id}
          </Txt>
          <Txt x={47} by={rowsBy[r]} s={14} c={dg}>
            {B_NAMES[r]}
          </Txt>
          <Txt x={152} by={rowsBy[r]} s={14} c={dg}>
            {B_TEMPS[r]}
          </Txt>
          {cols.map((col, k) => (
            <Txt key={'v' + k} x={colX[k]} by={rowsBy[r]} s={14} c={colC[k]} ax="center">
              {col[r]}
            </Txt>
          ))}
        </React.Fragment>
      ))}
    </>
  );
}

export default function App() {
  const blue = '#2222ee';
  const red = '#cc1616';
  return (
    <div style={{ position: 'absolute', left: 0, top: 0, width: 787, height: 1335, background: '#ffffff', overflow: 'hidden', fontFamily: FONT }}>
      {A_PANELS.map((p, i) => (
        <ChartBox key={'a' + i} b={box(p.area, p.yW, p.xH)} make={() => timeConfig(p)} />
      ))}
      {C_PANELS.map((p, i) => (
        <ChartBox key={'c' + i} b={box(p.area, p.yW, p.xH)} make={() => concConfig(p)} />
      ))}
      {D_PANELS.map((p, i) => (
        <ChartBox key={'d' + i} b={box(p.area, p.yW, p.xH)} make={() => sensConfig(p)} />
      ))}

      {/* Panel A titles */}
      <Txt x={8} by={22} s={21}>A</Txt>
      <Txt x={25} by={37} s={21}>a1</Txt>
      <Txt x={58} by={37} s={17} c={blue}>{'PF, 250℃'}</Txt>
      <Txt x={273} by={37} s={21}>a2</Txt>
      <Txt x={305} by={37} s={17} c={red}>{'PF, 300℃'}</Txt>
      <Txt x={22} by={277} s={21}>b1</Txt>
      <Txt x={58} by={276} s={17} c={blue}>{'NS(20min)/PF, 250℃'}</Txt>
      <Txt x={273} by={276} s={21}>b2</Txt>
      <Txt x={301} by={276} s={17} c={red}>{'NS(20min)/PF, 300℃'}</Txt>
      <Txt x={25} by={515} s={21}>c1</Txt>
      <Txt x={58} by={515} s={17} c={blue}>{'NS(6h)/PF, 250℃'}</Txt>
      <Txt x={273} by={515} s={21}>c2</Txt>
      <Txt x={305} by={515} s={17} c={red}>{'NS(6h)/PF, 300℃'}</Txt>

      {/* Panel C titles */}
      <Txt x={505} by={22} s={21}>C</Txt>
      <Txt x={558} by={75} s={23}>a</Txt>
      <Txt x={557} by={98} s={20}>PF</Txt>
      <Txt x={560} by={308} s={23}>b</Txt>
      <Txt x={590} by={307} s={20}>NS(20min)/PF</Txt>
      <Txt x={560} by={539} s={23}>c</Txt>
      <Txt x={560} by={638} s={20}>NS(6h)/PF</Txt>

      {/* Panel D titles */}
      <Txt x={507} by={748} s={21}>D</Txt>
      <Txt x={518} by={800} s={23}>a</Txt>
      <Txt x={543} by={800} s={20}>NS(20min)/PF</Txt>
      <Txt x={518} by={1091} s={23}>b</Txt>
      <Txt x={543} by={1090} s={20}>NS(6h)/PF</Txt>

      {/* Panel B */}
      <Txt x={13} by={749} s={21}>B</Txt>
      <TableB />
    </div>
  );
}
